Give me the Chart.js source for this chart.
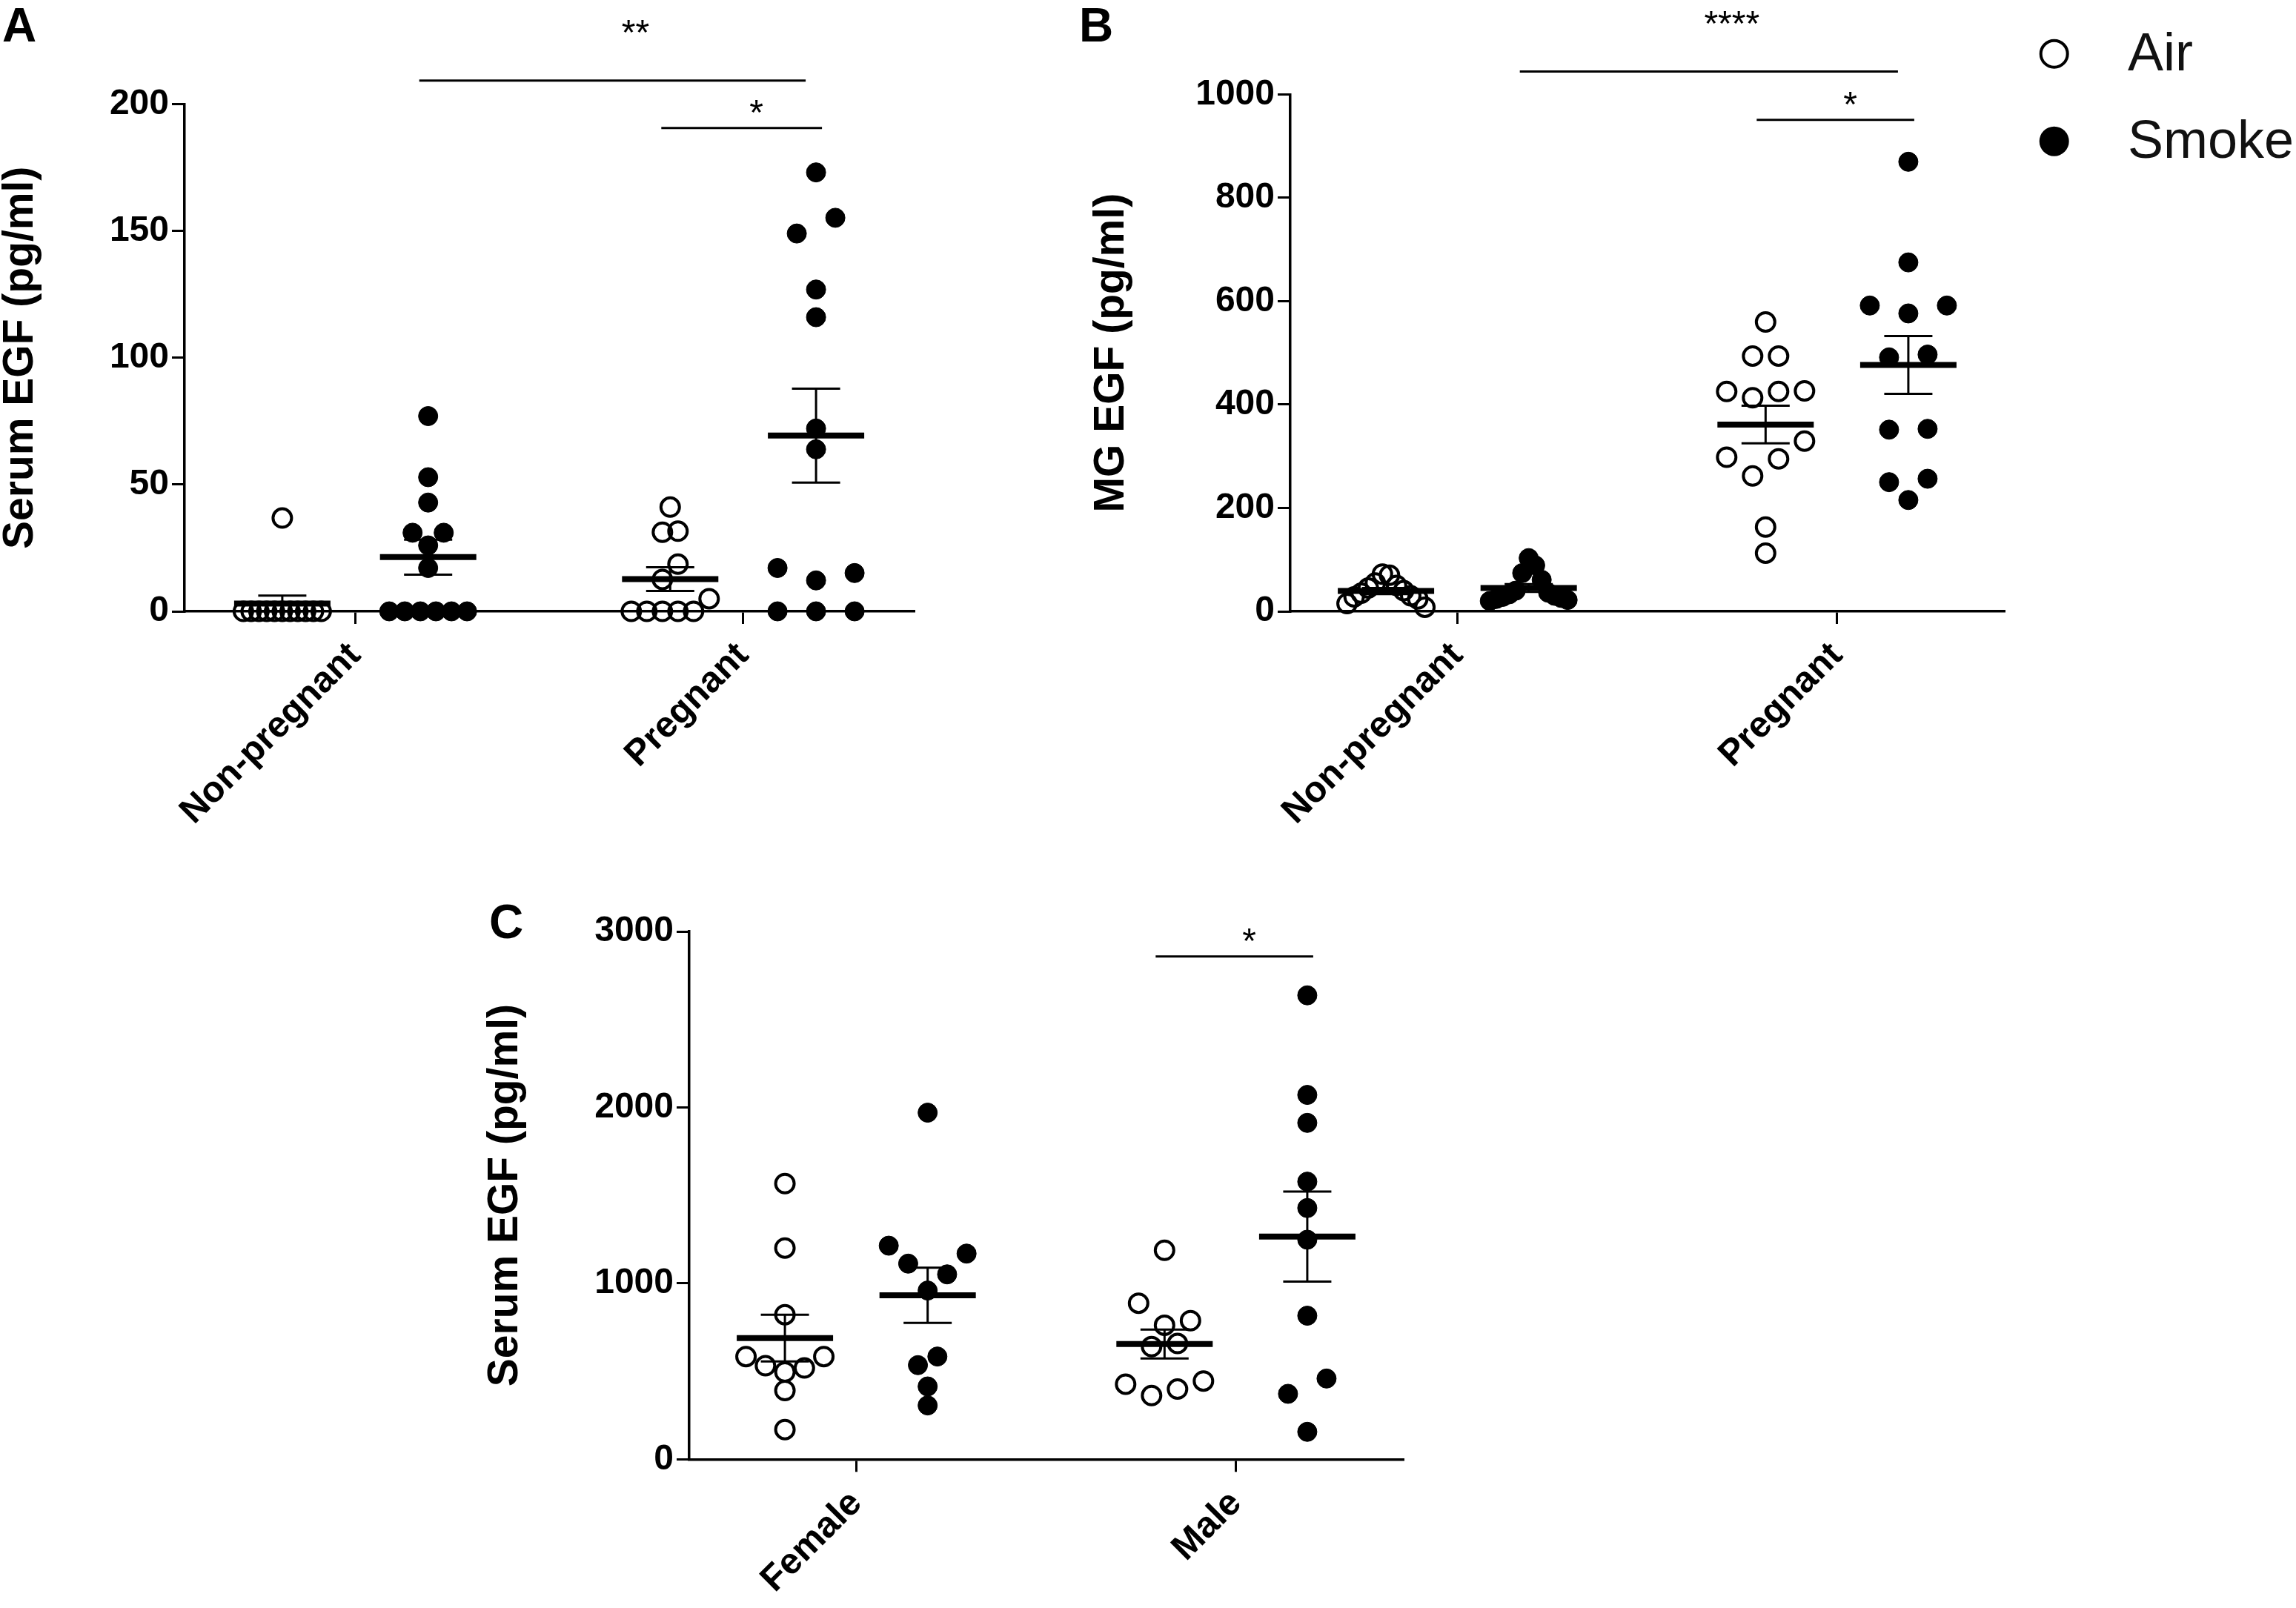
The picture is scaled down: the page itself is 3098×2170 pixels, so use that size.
<!DOCTYPE html>
<html>
<head>
<meta charset="utf-8">
<script src="https://cdn.jsdelivr.net/npm/chart.js@4.4.1/dist/chart.umd.min.js"></script>
<style>
html,body{margin:0;padding:0;background:#fff;}
#wrap{position:relative;width:3098px;height:2170px;background:#fff;overflow:hidden;}
.pane{position:absolute;}
canvas{display:block;}
</style>
</head>
<body>
<div id="wrap">
  <div class="pane" style="left:0px;top:0px;"><canvas id="cA" width="1290" height="1160" style="width:1290px;height:1160px"></canvas></div>
  <div class="pane" style="left:1450px;top:0px;"><canvas id="cB" width="1648" height="1160" style="width:1648px;height:1160px"></canvas></div>
  <div class="pane" style="left:600px;top:1180px;"><canvas id="cC" width="1343" height="990" style="width:1343px;height:990px"></canvas></div>
</div>
<script>
// ---------------- DATA ----------------
const seriesNames = ['Air', 'Smoke'];

// Panel A : Serum EGF (pg/ml)
const aCategories = ['Non-pregnant', 'Pregnant'];
const aTicks = [0, 50, 100, 150, 200];
const aAirNonPregnant = [0, 0, 0, 0, 0, 0, 0, 0, 0, 0, 0, 36.8];
const aAirPregnant = [0, 0, 0, 0, 0, 5.0, 12.6, 18.6, 31.2, 31.6, 41.1];
const aSmokeNonPregnant = [0, 0, 0, 0, 0, 0, 17.1, 26.0, 31.0, 31.0, 42.9, 52.9, 77.0];
const aSmokePregnant = [0, 0, 0, 12.2, 15.1, 17.1, 63.9, 72.1, 116.0, 126.9, 149.0, 155.2, 173.1];
const aAirMean = [3.1, 12.7];
const aAirSem = [3.1, 4.7];
const aSmokeMean = [21.4, 69.3];
const aSmokeSem = [6.9, 18.5];
const aSigLevel = [209.3, 190.6];
const aSigLabel = ['**', '*'];

// Panel B : MG EGF (pg/ml)
const bCategories = ['Non-pregnant', 'Pregnant'];
const bTicks = [0, 200, 400, 600, 800, 1000];
const bAirNonPregnant = [8, 15, 24, 28, 30, 35, 40, 45, 50, 55, 70, 72];
const bAirPregnant = [112.7, 163.1, 261.9, 294.9, 298.2, 329.5, 413.3, 425.3, 425.3, 426.5, 494, 494, 559.8];
const bSmokeNonPregnant = [20, 22, 24, 26, 28, 30, 33, 36, 40, 61, 74, 89, 103];
const bSmokePregnant = [215.3, 249.9, 256.5, 351.4, 353, 491.3, 496.7, 576.3, 591.6, 591.6, 675, 869.7];
const bAirMean = [39.3, 361.4];
const bAirSem = [5.8, 36.4];
const bSmokeMean = [45.1, 476.5];
const bSmokeSem = [7.5, 55.9];
const bSigLevel = [1044.4, 950.6];
const bSigLabel = ['****', '*'];

// Panel C : Serum EGF (pg/ml)
const cCategories = ['Female', 'Male'];
const cTicks = [0, 1000, 2000, 3000];
const cAirFemale = [169, 391, 496, 519, 532, 584, 584, 822, 1201, 1567];
const cAirMale = [362, 399, 427, 445, 640, 658, 762, 788, 887, 1188];
const cSmokeFemale = [306, 414, 535, 584, 959, 1051, 1112, 1169, 1214, 1970];
const cSmokeMale = [156, 372, 459, 816, 1248, 1428, 1578, 1912, 2071, 2637];
const cAirMean = [689, 655];
const cAirSem = [133, 82];
const cSmokeMean = [932, 1266];
const cSmokeSem = [157, 256];
const cSigLevel = [2858];
const cSigLabel = ['*'];

// ---------------- STYLE / LAYOUT ----------------
const FONT = '"Liberation Sans", Arial, Helvetica, sans-serif';
const SERIES_OFFSET = 0.188;
const ROW_GAP = 24, SWARM_WIDTH = 105, SWARM_MAX_STEP = 52;

function swarmOffsets(values, yScale) {
  const idx = values.map((v, i) => i).sort((a, b) => values[a] - values[b]);
  const rows = [];
  let cur = null, last = null;
  idx.forEach(i => {
    const py = yScale.getPixelForValue(values[i]);
    if (cur && Math.abs(py - last) < ROW_GAP) cur.push(i);
    else { cur = [i]; rows.push(cur); }
    last = py;
  });
  const maxRow = Math.max(...rows.map(r => r.length));
  const step = maxRow > 1 ? Math.min(SWARM_MAX_STEP, SWARM_WIDTH / (maxRow - 1)) : 0;
  const off = new Array(values.length).fill(0);
  rows.forEach(r0 => {
    const n = r0.length;
    // wide rows of spread values: highest values nearest the centre
    const r = n >= 7 ? r0.slice().reverse() : r0;
    r.forEach((i, k) => {
      let slot;
      if (n % 2) slot = k === 0 ? 0 : (k % 2 ? 1 : -1) * Math.ceil(k / 2);
      else slot = (k % 2 ? 1 : -1) * (Math.floor(k / 2) + 0.5);
      off[i] = slot * step;
    });
  });
  return off;
}

const statsPlugin = {
  id: 'stats',
  afterDatasetsDraw(chart) {
    const info = chart.canvas.$info;
    if (!info) return;
    const {ctx} = chart;
    const xs = chart.scales.x, ys = chart.scales.y;
    ctx.save();
    ctx.strokeStyle = '#000';
    ctx.lineCap = 'butt';
    info.groups.forEach(g => {
      const cx = xs.getPixelForValue(g.x);
      const my = ys.getPixelForValue(g.mean);
      const hi = ys.getPixelForValue(g.mean + g.sem);
      const lo = ys.getPixelForValue(Math.max(0, g.mean - g.sem));
      ctx.lineWidth = 3;
      ctx.beginPath();
      ctx.moveTo(cx, hi); ctx.lineTo(cx, lo);
      ctx.moveTo(cx - 32.5, hi); ctx.lineTo(cx + 32.5, hi);
      ctx.moveTo(cx - 32.5, lo); ctx.lineTo(cx + 32.5, lo);
      ctx.stroke();
      ctx.lineWidth = 8;
      ctx.beginPath();
      ctx.moveTo(cx - 65, my); ctx.lineTo(cx + 65, my);
      ctx.stroke();
    });
    info.brackets.forEach(b => {
      const x1 = xs.getPixelForValue(b.x1) + b.dl;
      const x2 = xs.getPixelForValue(b.x2) + b.dr;
      const y = ys.getPixelForValue(b.level);
      ctx.lineWidth = 3;
      ctx.beginPath(); ctx.moveTo(x1, y); ctx.lineTo(x2, y); ctx.stroke();
      const mid = (xs.getPixelForValue(b.x1) + xs.getPixelForValue(b.x2)) / 2 + 18;
      const size = 48;
      ctx.fillStyle = '#000';
      ctx.font = 'normal ' + size + 'px ' + FONT;
      ctx.textAlign = 'center';
      ctx.textBaseline = 'alphabetic';
      ctx.fillText(b.label, mid, y - b.gap + 0.575 * size);
    });
    ctx.restore();
  },
  afterDraw(chart) {
    const info = chart.canvas.$info;
    if (!info) return;
    const d = info.deco;
    const {ctx} = chart;
    ctx.save();
    ctx.fillStyle = '#000';
    ctx.textAlign = 'left';
    ctx.textBaseline = 'alphabetic';
    ctx.font = 'bold 64px ' + FONT;
    ctx.fillText(d.letter, d.lx, d.ly);
    if (d.legend) {
      const L = d.legend;
      seriesNames.forEach((name, i) => {
        const cy = L.y + i * L.dy;
        ctx.beginPath();
        if (i === 0) {
          ctx.lineWidth = 4; ctx.strokeStyle = '#000';
          ctx.arc(L.x, cy, 18, 0, Math.PI * 2); ctx.stroke();
        } else {
          ctx.fillStyle = '#000';
          ctx.arc(L.x, cy, 20, 0, Math.PI * 2); ctx.fill();
        }
        ctx.fillStyle = '#111';
        ctx.font = 'normal 72px ' + FONT;
        ctx.fillText(name, L.tx, cy + 22);
      });
    }
    ctx.restore();
  }
};

function makePanel(p) {
  const canvas = document.getElementById(p.id);
  const groups = [];
  const datasets = seriesNames.map((name, si) => ({
    label: name,
    data: [],
    showLine: false,
    clip: false,
    pointStyle: 'circle',
    pointRadius: si === 0 ? 12.5 : 13,
    pointHoverRadius: si === 0 ? 12.5 : 13,
    pointBorderWidth: si === 0 ? 4 : 1,
    pointHoverBorderWidth: si === 0 ? 4 : 1,
    pointBorderColor: '#000',
    pointBackgroundColor: si === 0 ? 'rgba(0,0,0,0)' : '#000'
  }));
  p.values.forEach((perCat, si) => perCat.forEach((vals, ci) => {
    const gx = ci + 1 + (si === 0 ? -SERIES_OFFSET : SERIES_OFFSET);
    const pts = vals.map(v => ({x: gx, y: v}));
    pts.forEach(pt => datasets[si].data.push(pt));
    groups.push({x: gx, vals, pts, mean: p.means[si][ci], sem: p.sems[si][ci]});
  }));
  const gpos = (ci, si) => ci + 1 + (si === 0 ? -SERIES_OFFSET : SERIES_OFFSET);
  const brackets = p.brackets.map((b, i) => ({
    x1: gpos(b.from[0], b.from[1]), x2: gpos(b.to[0], b.to[1]),
    level: p.sigLevel[i], label: p.sigLabel[i], gap: b.gap, dl: b.dl, dr: b.dr
  }));
  canvas.$info = {groups, brackets, deco: p.deco};
  const chart = new Chart(canvas, {
    type: 'scatter',
    data: {datasets},
    options: {
      responsive: false,
      animation: false,
      events: [],
      layout: {autoPadding: false, padding: p.padding},
      plugins: {
        legend: {display: false},
        tooltip: {enabled: false}
      },
      scales: {
        x: {
          type: 'linear', min: 0.56, max: 2.44,
          afterBuildTicks: s => { s.ticks = p.categories.map((c, i) => ({value: i + 1})); },
          afterFit: s => { s.height = p.xHeight; },
          ticks: {
            autoSkip: false, minRotation: 45, maxRotation: 45,
            padding: 14, color: '#000',
            font: {family: FONT, size: 49, weight: 'bold'},
            callback: v => p.categories[Math.round(v) - 1] || ''
          },
          grid: {drawOnChartArea: false, drawTicks: true, tickLength: 17, lineWidth: 3, color: '#000'},
          border: {display: true, color: '#000', width: 3.5}
        },
        y: {
          min: 0, max: p.ticks[p.ticks.length - 1],
          afterBuildTicks: s => { s.ticks = p.ticks.map(v => ({value: v})); },
          afterFit: s => { s.width = p.yWidth; },
          ticks: {
            padding: 4, color: '#000',
            font: {family: FONT, size: 48, weight: 'bold'},
            callback: v => String(v)
          },
          grid: {drawOnChartArea: false, drawTicks: true, tickLength: 17, lineWidth: 3, color: '#000'},
          border: {display: true, color: '#000', width: 3.5},
          title: {
            display: true, text: p.title, color: '#000', padding: {top: 0, bottom: 0},
            font: {family: FONT, size: 57, weight: 'bold', lineHeight: 1}
          }
        }
      }
    },
    plugins: [statsPlugin]
  });
  const xs = chart.scales.x, ys = chart.scales.y;
  const ppu = xs.getPixelForValue(2) - xs.getPixelForValue(1);
  groups.forEach(g => {
    const offs = swarmOffsets(g.vals, ys);
    g.pts.forEach((pt, k) => { pt.x = g.x + offs[k] / ppu; });
  });
  chart.update('none');
  return chart;
}

const shortB = {gap: 32, dl: -12, dr: 8};
const longB = {gap: 76, dl: -12, dr: -14};

makePanel({
  id: 'cA', categories: aCategories, ticks: aTicks, title: 'Serum EGF (pg/ml)',
  values: [[aAirNonPregnant, aAirPregnant], [aSmokeNonPregnant, aSmokePregnant]],
  means: [aAirMean, aSmokeMean], sems: [aAirSem, aSmokeSem],
  sigLevel: aSigLevel, sigLabel: aSigLabel,
  brackets: [Object.assign({from: [0, 1], to: [1, 1]}, longB), Object.assign({from: [1, 0], to: [1, 1]}, shortB)],
  padding: {left: 0, top: 140.6, right: 57, bottom: 0},
  yWidth: 249, xHeight: 335,
  deco: {letter: 'A', lx: 3, ly: 56}
});

makePanel({
  id: 'cB', categories: bCategories, ticks: bTicks, title: 'MG EGF (pg/ml)',
  values: [[bAirNonPregnant, bAirPregnant], [bSmokeNonPregnant, bSmokePregnant]],
  means: [bAirMean, bSmokeMean], sems: [bAirSem, bSmokeSem],
  sigLevel: bSigLevel, sigLabel: bSigLabel,
  brackets: [Object.assign({from: [0, 1], to: [1, 1]}, longB), Object.assign({from: [1, 0], to: [1, 1]}, shortB)],
  padding: {left: 21.5, top: 127.4, right: 394, bottom: 0},
  yWidth: 269.5, xHeight: 335,
  deco: {letter: 'B', lx: 6, ly: 56, legend: {x: 1321.7, y: 72.7, dy: 118, tx: 1421}}
});

makePanel({
  id: 'cC', categories: cCategories, ticks: cTicks, title: 'Serum EGF (pg/ml)',
  values: [[cAirFemale, cAirMale], [cSmokeFemale, cSmokeMale]],
  means: [cAirMean, cSmokeMean], sems: [cAirSem, cSmokeSem],
  sigLevel: cSigLevel, sigLabel: cSigLabel,
  brackets: [Object.assign({from: [1, 0], to: [1, 1]}, shortB)],
  padding: {left: 53.5, top: 77, right: 50, bottom: 0},
  yWidth: 276.5, xHeight: 200.7,
  deco: {letter: 'C', lx: 60, ly: 86}
});
</script>
</body>
</html>
